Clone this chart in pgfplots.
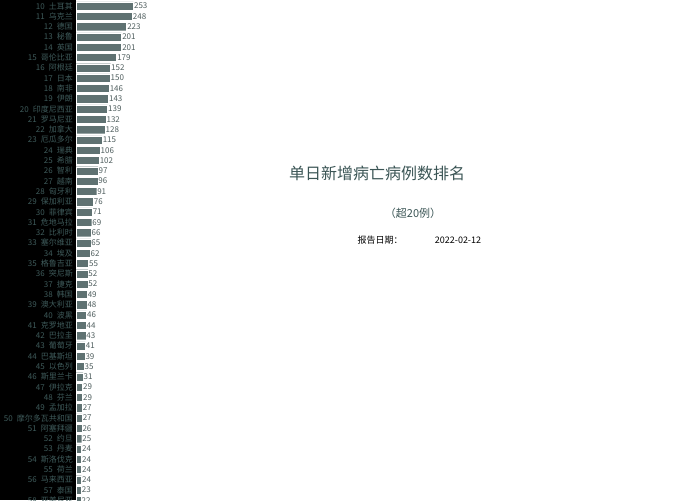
\documentclass[border=0pt]{standalone}
\usepackage{pgfplots}
\pgfplotsset{compat=1.18}
\usepackage{fontspec}
\setmainfont{Noto Sans CJK SC}

\definecolor{barcol}{HTML}{5F7272}
\definecolor{labcol}{HTML}{3E5A5A}
\definecolor{valcol}{HTML}{4F5E5E}
\definecolor{titcol}{HTML}{3B5555}

\begin{document}
\begin{tikzpicture}
    \useasboundingbox (0,0) rectangle (700pt,500pt);
    \fill[white] (0,0) rectangle (700pt,500pt);
    \fill[black] (0,0) rectangle (76pt,500pt);
    \begin{axis}[
        at={(76pt,-5.55pt)},
        anchor=south west,
        scale only axis,
        width=200pt,
        height=509.85pt,
        xbar,
        bar width=8.2pt,
        xmin=0, xmax=881,
        ymin=9, ymax=58.5,
        y dir=reverse,
        axis line style={draw=none},
        major tick length=0pt,
        xtick=\empty,
        ytick={9,...,58},
        yticklabels={9\enspace 意大利, 10\enspace 土耳其, 11\enspace 乌克兰, 12\enspace 德国,
            13\enspace 秘鲁, 14\enspace 英国, 15\enspace 哥伦比亚, 16\enspace 阿根廷,
            17\enspace 日本, 18\enspace 南非, 19\enspace 伊朗, 20\enspace 印度尼西亚,
            21\enspace 罗马尼亚, 22\enspace 加拿大, 23\enspace 厄瓜多尔, 24\enspace 瑞典,
            25\enspace 希腊, 26\enspace 智利, 27\enspace 越南, 28\enspace 匈牙利,
            29\enspace 保加利亚, 30\enspace 菲律宾, 31\enspace 危地马拉, 32\enspace 比利时,
            33\enspace 塞尔维亚, 34\enspace 埃及, 35\enspace 格鲁吉亚, 36\enspace 突尼斯,
            37\enspace 捷克, 38\enspace 韩国, 39\enspace 澳大利亚, 40\enspace 波黑,
            41\enspace 克罗地亚, 42\enspace 巴拉圭, 43\enspace 葡萄牙, 44\enspace 巴基斯坦,
            45\enspace 以色列, 46\enspace 斯里兰卡, 47\enspace 伊拉克, 48\enspace 芬兰,
            49\enspace 孟加拉, 50\enspace 摩尔多瓦共和国, 51\enspace 阿塞拜疆, 52\enspace 约旦,
            53\enspace 丹麦, 54\enspace 斯洛伐克, 55\enspace 荷兰, 56\enspace 马来西亚,
            57\enspace 泰国, 58\enspace 亚美尼亚},
        yticklabel style={font=\fontsize{8}{9}\selectfont, color=labcol,
            inner sep=0pt, xshift=-3pt},
        /pgf/number format/assume math mode=true,
        nodes near coords,
        every node near coord/.append style={font=\fontsize{8}{9}\selectfont,
            color=valcol, inner sep=0.5pt, anchor=west},
    ]
        \addplot[draw=white, line width=0.3pt, fill=barcol] coordinates {
            (300,9) (253,10) (248,11) (223,12) (201,13) (201,14) (179,15)
            (152,16) (150,17) (146,18) (143,19) (139,20) (132,21) (128,22)
            (115,23) (106,24) (102,25) (97,26) (96,27) (91,28) (76,29)
            (71,30) (69,31) (66,32) (65,33) (62,34) (55,35) (52,36) (52,37)
            (49,38) (48,39) (46,40) (44,41) (43,42) (41,43) (39,44) (35,45)
            (31,46) (29,47) (29,48) (27,49) (27,50) (26,51) (25,52) (24,53)
            (24,54) (24,55) (24,56) (23,57) (22,58)
        };
    \end{axis}
    \node[color=titcol, font=\fontsize{16}{18}\selectfont] at (377pt,327pt) {单日新增病亡病例数排名};
    \node[color=titcol, font=\fontsize{11}{13}\selectfont] at (413pt,287pt) {（超20例）};
    \node[color=black, font=\fontsize{9}{11}\selectfont] at (380pt,260pt) {报告日期：};
    \node[color=black, font=\fontsize{9}{11}\selectfont] at (458pt,260pt) {2022-02-12};
\end{tikzpicture}
\end{document}
